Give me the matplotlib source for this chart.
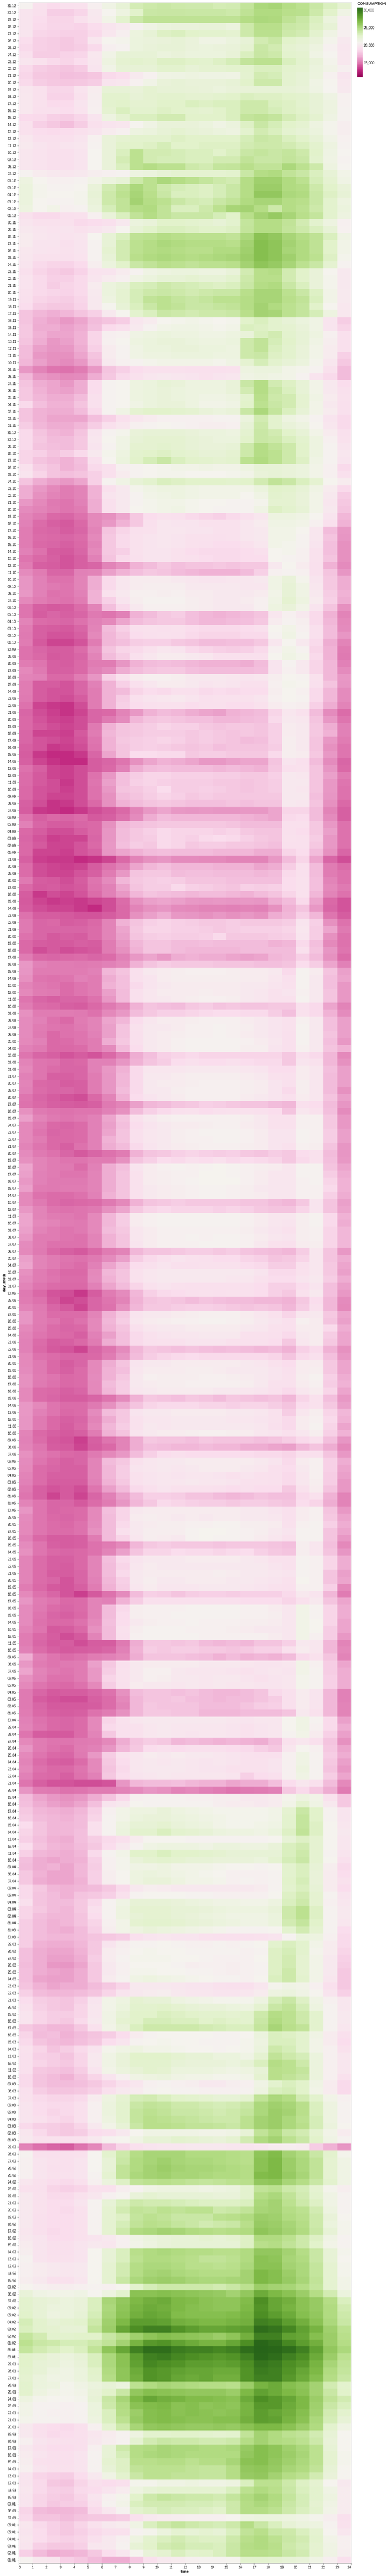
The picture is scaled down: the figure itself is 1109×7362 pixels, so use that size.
import numpy as np
import matplotlib
matplotlib.use('Agg')
import matplotlib.pyplot as plt
from matplotlib.colors import LinearSegmentedColormap

plt.rcParams['font.family'] = ['Liberation Sans', 'DejaVu Sans']

# consumption, in hundreds, one row per day, hours 0-23
# each month runs from its last day down to the 1st
dec = [
[206,192,187,190,192,203,214,222, 235,238,240,238,237,237,235,236, 243,254,256,250,246,240,232,224],
[194,190,181,181,185,198,208,216, 228,240,241,241,240,240,240,238, 245,252,252,248,247,238,228,214],
[194,188,184,184,190,197,212,226, 239,245,245,245,245,245,245,245, 250,254,253,245,240,232,218,203],
[194,187,185,185,183,188,194,199, 206,214,218,219,219,220,220,217, 238,248,248,240,238,230,222,203],
[195,185,183,182,182,186,196,203, 217,222,230,232,228,226,226,224, 238,247,247,238,236,226,214,204],
[189,182,180,178,182,196,208,210, 218,219,220,222,219,214,214,218, 222,236,240,228,224,220,210,198],
[186,182,180,178,180,186,203,206, 218,220,222,222,219,218,219,220, 224,240,236,224,222,216,205,196],
[190,180,180,183,185,197,213,222, 222,222,218,220,218,218,218,221, 232,241,238,226,224,214,207,197],
[195,192,186,184,188,196,216,224, 226,224,230,230,228,226,230,234, 243,246,246,232,226,220,210,197],
[186,180,178,176,179,194,213,222, 222,222,226,226,222,224,224,226, 226,232,232,226,224,218,212,203],
[185,178,177,174,175,177,186,189, 199,205,214,215,216,215,215,214, 225,236,234,225,222,217,205,194],
[186,180,178,177,178,180,194,196, 205,213,220,222,220,220,220,222, 228,238,238,225,222,214,208,197],
[196,192,185,185,193,201,222,222, 220,224,222,222,221,220,218,220, 221,222,222,222,220,215,207,198],
[197,192,183,183,192,202,226,226, 222,224,226,226,224,224,226,228, 232,230,230,228,226,222,215,205],
[197,192,187,187,194,203,226,228, 224,224,228,228,232,230,232,232, 238,238,232,230,226,222,216,205],
[197,190,190,188,193,204,224,232, 226,226,230,228,226,224,228,232, 238,238,234,230,228,222,216,206],
[187,186,182,180,185,194,216,224, 232,232,236,236,228,228,228,232, 243,245,242,235,230,225,215,206],
[192,182,178,173,180,190,194,196, 208,214,220,220,220,218,214,218, 230,240,234,228,224,216,210,202],
[192,188,187,188,190,194,200,204, 216,218,222,224,222,220,218,216, 226,236,232,225,222,218,210,202],
[197,190,190,190,194,205,220,224, 226,226,226,230,228,228,228,228, 234,240,238,232,228,222,213,205],
[199,194,192,194,196,206,220,228, 228,230,234,228,228,230,230,230, 236,238,238,236,232,226,216,206],
[196,193,190,191,194,207,220,232, 246,236,236,234,232,232,228,232, 240,242,240,242,238,228,215,207],
[196,193,190,191,194,207,220,235, 246,236,234,234,232,232,236,236, 244,240,240,243,240,226,214,206],
[196,193,190,190,194,207,220,232, 246,250,246,246,238,236,242,243, 248,244,244,254,246,238,216,207],
[206,200,198,196,198,202,204,206, 216,218,222,224,224,224,224,226, 240,250,252,244,240,232,222,212],
[216,208,204,204,206,212,218,222, 238,246,254,250,246,242,238,236, 250,260,260,252,246,234,224,214],
[218,210,206,206,208,220,236,244, 254,246,238,234,232,230,234,240, 250,262,262,252,250,238,228,220],
[218,210,208,208,210,222,238,246, 256,248,240,232,232,230,234,240, 250,266,266,254,252,240,230,222],
[218,208,206,206,210,220,238,244, 258,250,246,240,236,234,240,244, 252,256,256,250,248,240,226,216],
[216,208,212,204,206,218,234,244, 250,252,244,232,232,238,246,256, 258,250,238,250,246,238,226,218],
[192,186,186,190,192,204,220,232, 244,250,244,240,240,240,234,228, 248,258,264,256,248,242,226,216],
]
nov = [
[195,192,192,192,186,188,190,198, 218,220,228,228,226,224,222,226, 242,250,250,244,236,226,216,204],
[198,195,193,194,192,194,198,208, 222,228,232,232,230,228,228,230, 243,250,250,243,238,232,222,205],
[200,196,194,193,195,207,222,232, 245,246,250,248,246,246,246,244, 254,270,266,256,250,245,232,214],
[200,194,194,191,194,206,222,236, 246,250,254,252,250,250,250,248, 258,272,268,258,252,245,228,212],
[197,194,193,192,194,206,224,236, 246,250,252,250,248,248,252,252, 260,272,268,256,252,245,228,212],
[196,192,192,190,193,206,222,236, 248,252,254,252,250,252,254,256, 262,272,268,260,252,246,230,210],
[194,186,184,183,187,202,218,228, 240,244,248,246,244,246,246,248, 258,268,264,256,246,240,224,206],
[190,184,180,178,183,193,194,200, 206,214,216,218,218,216,216,220, 236,248,250,236,228,220,208,198],
[193,186,182,182,186,195,200,204, 214,218,222,222,224,222,222,226, 238,248,248,236,228,220,210,198],
[193,186,180,184,186,200,218,222, 232,234,238,236,234,232,230,232, 240,250,252,240,232,220,210,198],
[192,186,185,183,186,199,218,224, 234,238,240,238,236,238,240,240, 248,256,256,246,240,230,212,199],
[190,184,182,180,185,198,216,224, 234,244,246,242,240,242,246,246, 250,256,256,248,244,232,212,199],
[188,180,178,178,183,198,209,222, 232,240,246,244,240,240,242,244, 250,258,252,246,242,228,208,197],
[176,170,167,170,176,182,198,208, 226,232,240,238,236,238,238,240, 248,258,256,246,242,234,216,197],
[176,167,164,160,164,172,176,180, 196,200,208,210,212,210,208,210, 228,232,226,222,218,214,194,180],
[178,166,166,163,166,175,187,190, 199,206,212,214,214,212,210,212, 232,230,226,224,220,214,194,184],
[178,168,164,164,168,184,203,205, 214,216,218,216,216,214,214,216, 220,232,236,226,222,216,204,190],
[176,166,160,162,168,184,204,208, 216,218,220,220,218,216,216,218, 238,244,234,228,222,214,202,190],
[172,162,158,160,166,182,200,206, 214,218,218,220,220,218,218,216, 238,244,232,226,220,212,200,190],
[172,160,156,156,164,176,200,206, 214,216,216,218,218,218,216,216, 238,240,230,226,220,212,200,182],
[170,162,156,154,160,172,198,204, 206,210,212,212,212,212,210,214, 224,234,226,222,218,210,196,178],
[160,150,142,140,146,160,176,182, 188,192,192,192,190,190,190,192, 216,218,218,212,210,206,192,172],
[170,160,156,152,154,166,178,186, 192,196,198,196,194,192,194,196, 214,216,214,212,206,194,186,172],
[176,166,164,160,166,188,206,208, 216,218,222,220,216,216,216,220, 240,250,236,230,222,212,198,188],
[178,168,164,162,166,188,206,208, 216,218,220,218,216,216,216,220, 236,250,240,232,222,212,198,190],
[178,170,166,166,172,190,206,208, 216,218,220,218,216,214,214,216, 226,248,238,236,224,214,200,192],
[186,174,168,168,176,190,206,208, 214,218,220,220,216,212,212,214, 228,246,240,236,224,212,198,190],
[176,168,166,166,172,186,206,214, 224,228,228,226,224,220,218,220, 240,254,242,232,222,212,200,190],
[176,168,164,164,164,174,182,190, 196,200,204,204,204,204,206,206, 218,236,226,216,212,206,194,186],
[180,170,166,166,170,180,190,196, 204,206,208,206,204,202,202,204, 222,238,226,220,216,208,196,186],
]
oct_ = [
[186,176,170,168,176,194,206,210, 220,222,222,222,220,218,218,216, 225,240,236,228,222,212,200,190],
[186,178,172,172,178,196,208,214, 222,224,224,224,222,220,218,218, 228,240,238,232,226,216,204,192],
[186,176,174,172,178,194,206,214, 224,224,226,224,222,220,220,222, 238,250,244,238,228,216,206,194],
[184,182,176,180,186,198,210,216, 226,228,230,226,224,222,222,224, 238,250,246,238,228,216,206,196],
[184,176,172,168,174,190,208,218, 228,234,240,232,228,226,224,226, 246,252,246,238,230,214,206,194],
[192,180,176,168,172,186,190,204, 206,208,210,212,212,214,212,212, 216,222,222,220,218,212,204,186],
[194,184,176,174,176,182,190,200, 206,208,210,210,208,208,208,210, 212,220,222,220,218,212,204,190],
[176,166,162,160,164,182,206,214, 222,226,232,230,228,228,228,226, 228,236,244,240,232,224,208,200],
[166,160,152,146,150,168,190,198, 210,214,216,216,214,212,212,212, 212,218,228,226,222,214,200,186],
[166,156,150,146,150,168,194,198, 206,212,214,216,214,212,212,212, 208,214,226,224,220,212,198,180],
[160,152,144,142,148,166,190,198, 206,210,212,212,210,208,208,206, 206,210,224,224,220,212,196,178],
[154,150,146,142,146,166,190,198, 208,210,212,214,210,208,206,206, 206,214,230,226,222,212,198,176],
[150,144,136,134,140,152,156,164, 178,188,192,190,186,184,182,186, 190,196,216,216,214,208,194,170],
[148,138,132,128,136,152,160,168, 178,190,196,194,194,192,192,192, 196,200,214,214,212,204,190,168],
[146,136,134,130,134,150,176,184, 190,192,196,196,194,194,192,192, 196,198,212,212,208,196,172,160],
[146,138,136,134,138,152,178,186, 192,194,196,194,192,192,190,192, 196,198,212,212,206,196,176,158],
[146,136,134,132,136,150,178,186, 192,194,196,194,192,190,188,188, 192,196,212,210,206,194,174,156],
[148,140,130,128,134,152,178,182, 192,194,194,192,188,186,186,186, 188,190,208,210,204,192,174,156],
[142,136,132,126,132,148,176,186, 190,194,194,192,190,188,186,186, 188,188,208,206,204,192,176,156],
[146,132,130,126,132,134,150,156, 168,172,178,174,176,176,178,176, 178,178,198,208,200,190,168,154],
[154,146,134,134,148,150,162,168, 174,178,176,172,170,168,168,168, 172,182,204,206,204,190,176,158],
[158,148,140,140,150,166,186,196, 200,200,200,198,196,194,194,196, 196,198,214,220,210,194,178,166],
[158,148,144,142,150,166,186,196, 200,202,202,202,198,198,198,198, 196,196,214,222,214,196,178,166],
[160,148,140,142,148,168,192,198, 204,204,202,204,200,200,198,198, 198,200,212,222,214,198,180,168],
[152,146,142,140,146,168,182,194, 202,206,206,206,202,200,198,198, 200,204,214,224,216,200,182,166],
[142,132,128,130,138,150,174,186, 198,204,204,204,202,200,198,198, 198,204,216,220,212,194,176,156],
[142,130,134,132,134,144,142,148, 168,172,178,180,174,170,168,170, 172,176,196,204,198,186,168,150],
[150,138,136,134,140,148,152,164, 172,176,178,178,174,170,170,172, 174,178,200,206,202,186,170,152],
[146,132,130,128,134,150,172,182, 190,192,190,192,188,186,186,186, 188,190,208,212,204,190,172,154],
[144,132,126,126,132,152,170,178, 188,190,192,190,186,184,184,184, 186,186,206,214,206,190,172,158],
[146,128,122,122,126,146,170,174, 180,182,182,178,176,172,172,174, 174,178,196,208,198,186,166,150],
]
sep = [
[140,134,130,130,138,154,176,184, 186,192,196,194,186,184,182,180, 182,186,204,212,206,184,168,146],
[140,136,128,130,134,150,172,180, 190,196,200,200,198,196,190,190, 190,190,208,214,210,186,168,144],
[146,142,132,130,136,146,146,158, 168,172,174,172,170,168,168,168, 166,172,194,206,198,184,170,148],
[152,144,132,132,136,148,154,166, 172,176,178,178,174,172,172,172, 172,174,194,204,198,184,170,154],
[150,148,136,136,146,158,182,192, 200,204,204,202,198,198,198,196, 194,196,202,208,206,192,170,160],
[146,130,130,126,134,148,168,182, 190,196,200,200,198,194,196,194, 190,190,204,210,208,190,176,158],
[146,130,126,126,134,146,168,172, 184,188,186,190,190,186,188,186, 188,188,202,208,204,186,170,154],
[144,130,126,124,130,146,168,180, 190,194,196,198,194,190,192,192, 192,194,204,208,206,186,170,154],
[140,122,118,116,124,146,168,182, 188,190,192,192,188,190,190,188, 188,192,200,204,202,182,166,150],
[134,124,120,116,122,134,136,150, 160,168,172,170,166,164,162,168, 170,172,184,196,192,172,154,138],
[136,126,122,120,124,134,144,154, 170,176,178,176,174,174,170,170, 172,174,186,198,196,176,160,142],
[136,128,124,122,124,144,168,176, 178,180,184,182,182,178,176,178, 178,176,182,200,198,178,166,148],
[134,122,122,120,128,146,170,176, 178,180,180,180,178,180,178,176, 178,176,182,200,198,178,168,148],
[134,126,124,122,126,142,168,178, 180,182,184,182,178,180,178,176, 172,174,182,202,198,176,160,146],
[132,126,118,120,124,140,168,176, 180,182,180,178,176,178,174,176, 176,176,180,202,198,176,156,142],
[130,118,114,114,118,134,164,176, 188,188,186,186,178,180,180,178, 178,178,186,202,200,178,160,142],
[132,122,116,114,114,130,134,142, 156,164,168,166,164,160,160,162, 164,164,176,194,190,172,154,134],
[140,132,122,120,124,130,136,148, 166,172,174,172,172,172,170,172, 170,168,178,190,192,176,158,136],
[138,128,122,120,124,140,160,174, 180,184,184,182,182,182,180,180, 178,178,182,198,196,176,162,146],
[138,128,124,118,124,142,162,174, 182,184,182,180,180,180,178,178, 176,178,180,198,198,176,160,142],
[136,126,124,120,124,140,160,176, 178,182,188,180,180,182,180,178, 176,178,180,198,196,176,160,140],
[136,126,122,122,124,140,156,172, 176,180,184,182,178,180,178,178, 178,178,178,198,198,174,158,140],
[132,124,116,118,124,136,156,168, 172,176,178,176,174,174,174,176, 174,176,176,198,196,176,156,136],
[130,118,116,114,118,124,128,136, 150,160,164,160,158,160,158,158, 160,160,164,184,184,172,150,132],
[142,132,136,134,138,128,132,140, 154,166,172,170,170,170,170,170, 168,166,164,186,188,172,154,132],
[148,134,130,130,134,136,156,170, 174,176,178,178,178,178,178,176, 172,172,172,190,190,178,160,140],
[136,130,124,124,130,136,158,172, 178,182,186,184,184,184,182,184, 178,176,176,190,188,178,162,140],
[134,126,120,122,122,134,158,172, 178,180,186,184,182,186,188,186, 182,178,176,192,190,180,160,140],
[136,128,122,122,126,136,160,174, 180,178,186,184,178,180,180,178, 178,176,174,190,190,178,160,140],
[136,122,122,120,126,132,158,164, 168,172,174,172,172,172,170,170, 170,166,166,184,188,172,156,134],
]
aug = [
[132,120,118,118,114,116,122,136, 150,156,158,154,154,152,152,150, 150,150,160,172,184,164,134,124],
[138,124,122,120,122,130,140,148, 164,170,174,170,170,170,168,168, 168,164,166,180,190,172,146,138],
[138,124,122,122,126,132,146,160, 176,178,178,172,174,174,172,172, 172,170,172,186,190,172,146,140],
[144,130,128,124,130,142,154,170, 178,180,182,180,176,176,176,174, 174,174,174,188,192,174,150,140],
[136,128,130,126,128,140,148,164, 176,180,180,186,182,180,178,176, 182,180,182,188,192,174,152,144],
[130,118,124,122,126,138,148,160, 170,176,174,172,170,172,172,170, 168,172,176,184,192,170,150,140],
[128,122,118,120,118,122,124,138, 156,162,164,162,160,158,160,158, 160,158,166,172,186,164,136,126],
[130,124,122,122,118,114,124,136, 150,156,158,154,152,150,150,148, 150,148,156,168,176,160,134,126],
[140,130,130,128,126,126,130,136, 156,162,166,160,158,156,160,156, 160,156,166,170,182,170,142,130],
[144,134,136,130,132,136,150,168, 176,182,184,182,180,178,178,180, 178,178,178,180,194,182,156,140],
[144,134,134,134,134,138,150,164, 178,184,184,182,182,180,178,180, 182,182,182,184,196,180,164,144],
[140,134,128,132,130,138,150,162, 176,180,182,180,180,182,186,178, 178,178,180,182,194,180,156,140],
[136,130,128,128,132,130,146,160, 170,176,176,172,172,174,172,172, 172,172,168,170,186,174,152,140],
[136,124,128,124,126,128,146,156, 168,176,176,172,170,170,170,170, 172,172,172,172,190,176,158,142],
[146,136,134,136,138,134,138,148, 160,164,160,166,168,166,166,164, 162,164,170,172,182,172,156,138],
[160,148,146,146,144,146,148,152, 168,176,180,178,178,178,176,176, 176,174,174,176,188,180,164,148],
[158,146,146,146,146,148,170,176, 190,198,200,202,204,204,204,202, 200,200,198,186,206,200,176,162],
[156,142,140,142,148,146,166,174, 190,194,200,202,202,202,202,202, 200,200,196,190,206,198,174,164],
[150,144,142,138,142,146,168,174, 186,194,198,200,200,200,200,200, 198,198,194,192,206,198,174,160],
[152,146,144,138,142,146,162,172, 190,196,200,200,200,202,200,200, 198,196,192,194,204,198,176,160],
[142,134,132,134,134,140,160,172, 190,196,198,200,202,204,204,202, 198,196,192,192,206,198,176,160],
[146,138,136,132,130,136,144,152, 168,176,174,172,178,180,176,178, 176,176,178,178,190,186,164,150],
[156,146,146,146,144,140,152,160, 172,178,182,182,184,186,188,188, 186,186,180,174,192,186,168,154],
[154,148,140,136,146,150,164,170, 188,196,200,200,202,204,204,204, 200,198,194,192,204,198,174,162],
[154,146,142,140,144,150,162,176, 192,198,198,200,204,204,206,204, 202,198,194,192,206,198,174,162],
[154,144,136,140,142,148,162,176, 190,198,200,202,204,204,206,204, 200,198,194,190,206,198,176,162],
[152,148,136,138,142,146,166,178, 190,198,200,204,206,206,206,206, 204,200,196,190,206,198,174,160],
[148,144,136,136,138,146,154,172, 188,198,200,204,206,206,206,206, 202,202,194,190,204,198,176,168],
[142,134,132,126,130,126,136,148, 166,174,182,184,186,184,184,184, 184,184,184,178,190,186,170,152],
[150,142,140,134,136,148,148,158, 168,176,180,188,190,188,188,190, 188,186,186,178,194,192,170,156],
[152,142,138,134,134,148,160,168, 186,196,196,196,198,198,198,198, 196,194,188,188,200,196,174,162],
]
jul = [
[148,142,132,132,134,146,158,170, 186,198,198,200,202,202,202,202, 200,198,192,190,200,196,172,162],
[150,136,134,130,132,146,158,170, 186,198,200,200,202,204,204,204, 202,200,194,190,202,196,172,162],
[148,138,134,134,132,146,158,172, 186,198,198,202,204,204,204,204, 202,200,194,186,202,196,172,156],
[142,134,130,126,124,136,150,168, 188,194,198,200,204,204,204,204, 200,198,194,190,200,196,176,162],
[140,136,132,130,128,132,144,150, 162,170,172,176,178,182,180,178, 176,176,172,170,190,188,172,158],
[156,144,142,140,142,142,148,156, 172,182,186,190,192,188,190,192, 192,190,188,176,196,192,174,154],
[162,150,144,142,144,148,164,176, 192,198,202,204,204,204,204,204, 202,198,192,192,204,204,178,160],
[152,144,136,134,138,148,162,174, 188,194,198,200,200,202,204,204, 200,198,192,192,204,204,178,160],
[152,142,134,136,138,148,164,176, 190,196,198,202,204,206,206,206, 204,200,194,194,206,204,180,162],
[152,146,136,136,138,148,168,176, 190,196,198,202,204,204,206,206, 204,200,194,194,206,204,180,162],
[150,142,136,132,140,148,166,172, 186,194,198,200,202,204,204,204, 202,200,194,192,204,202,176,158],
[154,144,140,134,128,134,140,146, 168,176,178,182,184,182,180,182, 178,176,180,178,188,192,172,158],
[156,150,146,142,142,146,146,156, 176,182,188,186,190,188,192,186, 188,186,184,178,186,192,174,160],
[164,150,146,144,138,148,166,174, 194,200,204,206,204,206,208,206, 204,202,200,196,206,206,176,164],
[162,148,146,142,142,150,166,176, 192,200,202,204,204,208,208,206, 204,200,196,196,206,206,180,166],
[160,148,144,144,144,150,166,176, 192,200,202,204,206,208,208,208, 204,200,196,196,204,206,184,168],
[162,146,144,146,146,150,166,176, 192,198,200,202,204,206,206,204, 202,198,196,196,204,204,186,168],
[152,140,138,138,140,148,168,176, 192,198,200,202,204,206,206,204, 202,200,196,196,204,204,182,166],
[152,144,138,134,136,138,144,152, 168,176,178,180,178,178,178,178, 176,176,172,170,178,194,176,162],
[160,150,142,140,142,144,156,164, 178,184,186,184,184,184,182,184, 182,178,176,176,184,194,176,164],
[164,150,146,144,142,152,170,180, 200,204,206,206,206,206,206,206, 204,200,196,196,202,206,186,168],
[164,152,150,146,144,152,170,180, 200,204,206,206,206,206,206,206, 204,200,196,194,202,206,186,166],
[162,150,146,142,144,152,172,178, 196,200,204,204,204,204,204,204, 202,198,194,192,202,204,184,170],
[160,146,146,142,140,150,168,176, 196,200,204,204,206,204,206,206, 204,200,196,194,202,204,184,170],
[154,146,140,140,140,150,168,176, 194,200,204,204,204,206,206,206, 204,198,192,190,200,202,184,170],
[152,144,136,132,128,136,146,150, 170,176,176,178,180,180,178,180, 176,174,172,170,180,196,176,160],
[162,150,146,142,140,144,154,162, 180,186,190,194,192,190,188,188, 184,182,176,178,184,196,176,166],
[164,150,146,140,138,148,164,172, 188,190,194,190,190,192,192,192, 188,186,180,180,190,196,178,164],
[156,146,140,136,136,152,170,176, 192,196,198,198,198,198,198,198, 198,194,186,186,192,196,178,162],
[154,146,142,138,138,154,168,176, 192,196,198,198,198,198,198,196, 196,192,188,188,194,198,180,166],
[150,142,138,136,136,148,164,172, 184,192,194,192,190,190,190,190, 190,188,182,182,188,194,174,162],
]
jun = [
[144,136,126,124,118,130,146,154, 170,182,186,188,190,192,190,192, 190,188,182,178,192,198,174,160],
[146,140,128,122,124,134,142,150, 168,176,178,176,172,176,174,172, 172,170,170,168,178,188,170,154],
[150,144,134,128,122,134,140,156, 170,178,178,180,182,182,180,178, 176,178,176,170,180,190,170,152],
[158,146,138,138,138,150,168,178, 194,198,198,200,202,204,204,204, 200,196,192,184,196,198,178,164],
[158,146,142,136,140,152,170,180, 196,200,202,204,204,206,206,204, 202,198,194,190,204,200,176,162],
[152,144,138,134,136,152,168,176, 190,196,198,198,200,200,200,200, 198,196,192,190,200,200,186,166],
[150,142,138,136,132,148,162,174, 186,192,194,196,196,198,198,198, 192,192,190,186,198,200,180,164],
[148,138,130,132,136,146,166,174, 186,190,192,192,194,194,194,192, 190,190,188,178,196,200,178,164],
[148,136,128,126,122,134,142,154, 170,178,176,174,176,174,172,174, 172,170,172,168,182,186,168,156],
[152,140,138,134,134,136,146,158, 172,180,184,186,188,186,186,186, 186,186,184,176,186,190,174,160],
[152,144,136,130,134,152,166,176, 194,198,198,200,200,200,200,200, 198,196,192,188,200,200,178,164],
[154,144,136,132,138,152,168,174, 196,200,200,200,202,202,200,198, 198,198,194,190,200,202,178,164],
[156,146,142,136,138,154,168,178, 198,204,202,202,202,204,204,202, 200,198,194,192,202,206,182,166],
[156,144,140,136,138,152,172,180, 198,200,202,202,204,204,204,204, 202,198,192,192,200,204,180,168],
[152,138,136,132,134,152,170,180, 196,198,200,200,200,200,198,198, 196,194,190,186,196,200,184,164],
[152,138,134,130,130,134,142,154, 168,178,176,174,178,176,172,178, 176,174,176,170,184,192,174,160],
[160,152,142,138,138,144,156,166, 176,184,186,186,186,184,184,182, 184,184,180,176,188,192,178,162],
[160,148,142,136,138,154,172,178, 194,198,198,200,200,200,200,198, 198,196,192,180,196,202,184,170],
[158,144,136,132,134,150,166,178, 192,196,196,198,198,198,198,196, 196,194,192,186,200,204,186,168],
[158,144,136,130,136,152,170,180, 192,198,196,198,198,198,198,198, 198,196,190,186,200,206,184,164],
[150,136,132,128,132,146,168,176, 194,198,200,200,202,204,204,202, 200,196,194,190,196,202,182,168],
[148,138,128,126,120,132,142,150, 166,178,176,176,174,178,176,176, 176,174,176,180,186,190,174,158],
[150,142,130,128,122,130,136,150, 166,174,172,170,170,172,170,170, 166,166,164,162,170,176,166,152],
[156,144,140,136,134,144,152,160, 172,182,188,190,188,188,188,188, 188,186,186,184,190,190,176,160],
[154,142,136,132,134,150,172,178, 192,196,198,198,200,200,200,200, 200,198,194,186,200,204,182,166],
[152,138,134,132,132,150,170,180, 194,196,198,196,198,200,200,200, 198,196,190,188,198,204,182,164],
[150,138,132,132,132,150,170,180, 192,194,196,194,196,196,194,192, 194,192,190,186,196,204,180,162],
[148,138,130,130,130,148,168,178, 192,194,196,196,198,196,196,194, 192,192,190,186,196,202,180,160],
[144,132,126,128,124,142,162,172, 186,190,194,192,192,192,190,188, 190,188,188,178,192,200,176,160],
[142,132,122,128,122,134,148,162, 172,182,182,180,176,176,172,170, 172,176,174,174,186,192,168,150],
]
may = [
[150,142,134,134,128,138,146,158, 170,178,186,184,182,180,180,178, 180,180,178,176,188,184,166,150],
[158,142,134,136,138,152,174,184, 198,200,200,200,200,200,200,200, 198,198,194,190,200,204,176,160],
[154,142,136,134,138,152,172,184, 200,202,200,198,200,198,200,200, 198,198,196,190,200,204,178,164],
[152,142,138,136,140,154,172,186, 198,200,202,202,204,204,206,206, 202,202,200,192,204,206,182,166],
[152,142,138,138,140,156,172,190, 198,202,202,202,206,208,208,206, 204,202,198,194,206,206,176,164],
[148,136,130,130,132,146,172,184, 196,202,200,198,206,208,206,206, 204,200,196,192,206,206,176,160],
[154,142,132,130,132,140,146,152, 170,178,180,178,178,178,176,178, 178,178,176,174,202,196,174,152],
[156,142,136,134,136,140,150,162, 176,184,184,188,186,186,184,186, 188,182,178,176,202,196,176,158],
[150,138,132,132,136,150,174,186, 194,198,198,198,200,200,200,200, 198,196,192,192,206,204,184,166],
[150,138,132,130,136,150,172,184, 196,200,198,198,198,198,198,198, 198,198,194,192,206,204,184,166],
[150,138,130,130,134,150,172,186, 198,200,200,200,200,200,202,200, 198,198,196,194,206,204,176,162],
[150,138,134,126,134,148,170,182, 198,202,198,198,200,200,200,198, 198,196,194,192,208,204,176,164],
[146,136,128,126,132,146,168,180, 196,200,196,196,196,198,198,198, 196,194,192,190,204,204,182,152],
[152,140,134,126,120,128,140,154, 172,182,180,176,180,182,182,180, 182,182,182,186,198,194,170,146],
[158,146,142,136,138,150,148,168, 180,190,190,190,190,190,190,190, 188,188,188,184,192,198,176,164],
[154,144,138,134,138,150,172,186, 202,204,204,204,206,206,206,206, 204,204,200,196,212,206,184,166],
[154,142,134,132,136,150,172,188, 202,204,204,206,206,206,206,206, 204,204,202,196,212,206,184,166],
[154,140,136,136,140,152,174,188, 198,202,204,204,206,204,204,204, 202,202,200,196,212,208,184,164],
[150,142,128,130,136,156,172,192, 202,206,206,206,204,204,204,202, 200,198,198,196,212,208,180,164],
[146,136,130,124,128,150,172,190, 204,206,206,206,206,204,204,204, 204,204,200,196,212,204,180,160],
[146,134,128,130,124,130,130,144, 166,178,178,176,178,172,170,172, 170,176,176,182,198,196,170,150],
[148,138,132,128,130,132,134,148, 168,180,178,180,180,178,178,176, 178,182,182,190,200,196,170,152],
[166,148,142,138,140,146,148,152, 166,176,176,176,174,172,168,172, 168,170,168,172,186,192,176,150],
[160,146,142,144,146,162,178,190, 198,200,200,200,200,198,198,198, 196,194,194,196,212,204,180,164],
[164,150,144,142,146,160,180,192, 198,204,204,198,196,196,196,194, 192,194,196,194,212,206,180,166],
[156,148,140,140,146,160,184,192, 198,204,202,198,198,196,198,198, 194,192,194,196,210,206,182,166],
[152,142,138,136,140,152,180,190, 200,198,198,196,198,196,198,196, 196,194,194,196,210,206,182,166],
[144,134,128,130,130,134,140,156, 172,176,176,174,176,172,170,170, 172,176,186,190,200,194,170,148],
[144,130,126,124,124,132,138,152, 170,176,176,178,174,172,170,172, 172,176,180,190,200,194,170,148],
[144,134,128,128,128,130,138,150, 170,178,176,176,176,172,172,172, 176,180,182,190,200,194,170,150],
[146,136,132,130,132,140,146,156, 170,178,178,176,176,170,170,170, 172,172,172,176,198,192,170,150],
]
apr = [
[148,140,136,134,138,152,184,192, 196,198,198,198,198,198,198,196, 194,196,196,208,214,206,186,162],
[150,142,136,134,138,152,186,190, 192,196,198,196,196,196,196,194, 192,194,196,208,214,204,186,166],
[142,130,128,128,138,150,178,190, 192,196,198,196,194,196,196,194, 192,194,196,206,212,200,182,162],
[152,146,142,142,144,146,152,166, 176,180,178,170,172,170,168,170, 168,166,174,192,196,190,176,156],
[158,146,140,138,146,148,158,170, 178,188,190,188,190,190,190,188, 186,182,178,196,208,204,178,164],
[152,142,136,134,144,160,180,192, 196,200,198,200,198,198,196,194, 192,190,190,204,214,206,180,166],
[150,138,132,130,138,152,178,188, 196,198,196,198,196,194,196,194, 192,192,194,204,214,206,178,162],
[152,140,136,136,142,152,176,186, 196,198,198,198,196,194,194,192, 192,192,194,204,216,206,176,160],
[148,138,136,132,140,148,178,188, 194,196,198,196,196,196,196,194, 182,188,190,204,214,206,180,164],
[142,132,126,126,124,124,126,158, 170,172,172,174,170,168,168,164, 166,166,174,188,196,190,172,152],
[158,146,144,140,142,146,146,150, 154,158,156,150,152,148,146,142, 144,146,148,178,186,178,166,146],
[172,164,160,156,160,166,176,186, 204,206,206,206,204,204,202,202, 198,198,200,210,216,212,192,178],
[174,166,162,160,164,174,194,198, 208,206,206,206,206,206,202,200, 200,198,200,212,224,214,198,178],
[178,170,168,166,170,182,204,212, 216,216,220,216,214,212,210,210, 210,210,212,224,240,228,206,194],
[180,172,170,168,172,184,206,212, 218,220,220,218,216,214,212,210, 210,210,212,226,242,228,206,194],
[188,176,170,170,172,190,206,216, 222,222,224,220,218,216,212,210, 210,212,214,226,242,230,208,196],
[184,176,170,170,174,190,206,218, 226,226,232,226,224,222,218,216, 216,214,218,230,244,230,208,198],
[182,174,168,166,174,180,186,190, 200,208,208,208,206,206,206,206, 206,206,208,222,230,224,208,196],
[188,176,170,168,172,178,188,198, 206,214,216,216,216,214,218,218, 216,216,220,232,236,224,208,196],
[182,170,168,166,170,186,206,212, 228,228,232,228,228,226,224,222, 222,222,222,232,238,224,206,194],
[174,166,164,166,168,182,204,210, 220,224,226,224,222,222,220,220, 220,218,224,234,240,224,208,190],
[172,166,168,164,170,180,204,210, 214,214,216,212,212,212,210,208, 208,206,208,226,232,222,202,186],
[178,168,164,164,170,182,202,208, 216,218,216,214,212,210,208,204, 204,204,206,226,232,220,200,188],
[178,166,164,164,168,182,202,208, 216,220,220,216,212,212,210,204, 206,204,206,228,234,220,200,192],
[186,178,170,168,170,172,178,186, 198,202,200,198,198,198,198,198, 198,200,206,226,232,222,200,188],
[186,176,172,168,176,178,182,192, 206,208,208,208,206,206,204,204, 204,204,208,230,236,224,206,194],
[190,176,172,172,178,186,206,214, 222,222,222,220,218,216,214,214, 212,212,216,232,238,224,204,196],
[184,178,172,170,178,190,206,216, 224,224,224,222,222,220,218,216, 216,216,220,238,246,230,206,198],
[184,174,170,170,176,188,206,216, 222,224,224,222,220,218,216,214, 214,214,218,238,246,230,206,198],
[180,172,168,170,176,184,204,212, 224,226,226,224,222,220,218,216, 214,214,218,236,242,228,206,196],
]
mar = [
[180,172,168,166,172,182,202,212, 216,220,218,216,214,212,210,206, 206,206,208,226,236,224,206,188],
[180,172,170,170,172,176,178,180, 190,194,196,194,194,192,190,190, 190,192,194,206,218,216,204,186],
[180,168,166,166,170,178,194,202, 206,206,208,206,204,204,206,204, 206,208,226,232,226,212,200,186],
[174,166,164,164,168,178,200,204, 208,210,208,208,206,206,206,206, 204,206,230,234,226,210,200,184],
[174,166,162,162,166,180,200,206, 210,210,210,208,208,206,204,204, 204,208,230,236,224,212,198,182],
[172,166,160,158,164,178,198,204, 208,208,208,206,202,204,204,202, 204,206,230,236,224,212,198,180],
[174,166,164,162,166,178,198,204, 210,210,208,208,206,206,204,202, 204,206,230,238,224,212,198,178],
[174,164,162,162,166,178,200,206, 214,216,214,212,210,208,206,206, 204,208,232,238,226,212,196,178],
[176,168,164,166,166,172,178,184, 198,198,198,196,194,194,192,190, 190,196,210,214,212,204,190,178],
[182,172,170,170,172,176,184,194, 198,200,202,198,196,196,194,194, 196,200,216,218,214,208,194,182],
[188,180,178,176,182,194,212,216, 224,222,222,216,214,212,210,210, 210,216,234,240,230,214,204,196],
[192,182,178,176,184,196,212,218, 226,226,228,224,222,220,220,218, 216,224,240,244,234,216,206,196],
[194,184,180,180,184,196,214,222, 228,228,232,230,228,226,226,224, 226,238,250,246,238,226,206,198],
[194,184,180,178,186,198,214,224, 228,234,234,232,232,228,230,228, 226,240,252,246,238,226,206,198],
[178,174,170,170,178,192,212,220, 232,238,238,238,238,236,234,232, 232,242,256,248,244,226,206,196],
[184,172,174,168,172,176,180,188, 200,206,208,208,208,208,206,206, 208,218,232,230,226,214,200,190],
[186,176,172,170,174,178,188,194, 206,208,210,208,208,206,206,206, 210,216,232,232,226,212,200,188],
[192,184,176,180,186,194,210,214, 216,212,212,210,208,208,206,208, 210,218,238,234,226,212,204,192],
[190,182,180,176,184,198,214,220, 228,228,228,224,222,222,218,218, 214,224,244,238,234,218,204,196],
[190,184,180,178,184,198,214,220, 226,226,226,222,220,220,220,218, 222,232,250,246,238,218,204,196],
[190,178,176,174,180,194,212,218, 222,226,224,218,218,218,216,214, 216,222,248,246,242,218,204,196],
[186,176,172,168,176,184,194,204, 214,216,218,214,212,212,210,210, 212,224,248,244,240,218,204,192],
[186,176,172,172,174,178,184,192, 196,204,206,204,202,198,198,202, 204,214,226,232,228,214,200,186],
[190,180,176,176,178,182,190,198, 200,206,208,206,206,204,204,204, 206,216,232,234,228,212,200,186],
[192,186,184,184,186,200,216,224, 234,236,232,228,226,224,222,222, 224,244,254,250,236,226,212,204],
[194,188,186,186,190,204,218,226, 240,244,242,238,238,236,234,236, 240,254,260,256,248,232,216,206],
[194,188,184,186,190,204,218,226, 242,246,244,240,240,238,236,238, 242,254,262,258,248,232,216,206],
[194,190,186,184,190,204,216,226, 242,248,246,244,242,240,238,238, 246,258,262,254,246,234,216,206],
[186,182,180,178,184,198,212,222, 240,248,248,246,244,244,242,240, 246,258,262,254,248,234,218,208],
[196,186,180,178,180,188,190,198, 208,214,214,214,214,212,212,214, 222,244,252,240,236,224,212,200],
[198,192,192,190,192,198,206,208, 214,222,222,226,224,222,220,224, 236,252,258,246,240,228,214,206],
]
feb = [
[150,140,135,130,142,152,172,184, 190,194,196,196,198,198,198,196, 194,196,200,202,200,180,168,158],
[206,192,190,190,192,207,226,238, 250,256,256,256,252,252,252,250, 248,268,274,258,252,240,226,210],
[204,194,192,190,194,207,222,240, 252,256,260,256,254,254,252,250, 248,270,276,262,254,244,224,214],
[204,194,190,190,194,207,222,244, 252,258,262,258,256,256,254,252, 250,270,276,262,254,244,224,214],
[204,194,192,192,194,206,224,244, 254,258,260,256,256,254,252,252, 250,274,276,264,256,244,224,214],
[196,192,188,186,190,204,218,230, 244,246,248,246,244,242,244,246, 248,266,268,256,250,240,226,214],
[192,190,184,182,184,192,192,202, 206,214,216,216,216,214,216,218, 226,244,246,238,234,224,210,202],
[198,192,186,186,192,196,204,208, 220,224,222,222,222,222,220,220, 226,250,254,244,236,226,214,206],
[198,192,188,188,194,206,222,232, 238,236,236,234,232,230,230,230, 232,254,258,246,238,230,214,206],
[198,192,188,186,192,206,224,236, 244,242,246,244,246,246,238,240, 244,256,258,250,246,236,216,206],
[198,190,188,188,192,206,224,230, 242,246,244,240,240,240,246,248, 252,262,260,252,248,238,220,208],
[198,190,188,188,192,206,224,234, 244,248,246,242,240,236,238,240, 248,264,262,256,250,238,218,210],
[196,190,186,188,192,206,224,238, 252,254,258,256,252,250,248,250, 252,268,264,258,252,240,222,210],
[198,194,188,188,192,194,198,204, 214,218,220,222,222,224,222,224, 230,252,252,246,238,230,214,206],
[200,194,190,190,194,198,196,204, 212,216,220,222,222,222,222,222, 230,248,250,244,238,228,212,206],
[202,194,190,190,194,208,222,232, 248,252,254,252,250,250,248,248, 252,266,266,258,250,240,222,210],
[206,194,192,192,194,208,222,232, 246,252,252,250,248,244,244,246, 252,270,268,256,252,240,222,208],
[204,200,198,196,198,208,224,236, 250,254,254,252,248,248,246,248, 254,270,270,258,254,242,224,210],
[204,200,198,196,198,208,224,236, 250,256,258,254,252,250,250,250, 258,276,272,262,254,242,224,210],
[202,198,192,192,196,208,224,240, 254,260,262,260,256,254,254,256, 258,276,272,264,256,244,224,212],
[208,204,202,202,204,206,204,208, 226,234,238,238,238,238,236,240, 246,262,258,256,250,242,224,212],
[220,214,212,212,214,208,216,226, 270,270,272,270,268,266,264,258, 266,282,276,270,262,250,236,218],
[226,222,220,218,220,232,256,266, 276,280,282,276,274,270,268,268, 274,294,284,280,270,264,250,232],
[226,222,218,218,220,232,254,268, 278,282,280,276,272,270,268,268, 276,292,284,278,270,264,252,236],
[228,222,216,218,222,234,256,270, 280,284,282,274,272,272,272,274, 278,294,288,282,272,266,252,238],
[234,226,222,224,226,238,260,276, 288,288,286,280,278,276,276,278, 280,298,296,288,280,270,254,240],
[232,226,224,222,222,242,262,284, 294,298,298,292,288,284,284,286, 288,304,302,296,286,278,260,246],
[242,236,226,226,228,228,240,248, 260,268,272,270,268,266,262,268, 280,298,298,286,284,272,262,248],
[246,240,238,234,234,238,244,258, 278,290,292,286,282,278,278,284, 294,306,304,296,288,280,262,250],
]
jan = [
[242,236,232,228,232,244,268,284, 298,304,304,300,298,298,296,298, 304,307,306,304,298,286,266,254],
[228,224,220,218,222,232,254,270, 288,298,300,296,294,292,290,292, 298,306,304,298,294,282,262,246],
[228,222,220,216,220,232,254,270, 286,296,294,292,288,288,286,288, 294,302,300,294,290,278,256,244],
[226,222,216,214,218,228,252,268, 282,292,290,286,284,284,282,282, 292,300,298,292,284,276,252,242],
[224,218,214,214,218,226,250,268, 280,292,290,284,282,284,280,280, 292,298,298,290,282,272,250,240],
[226,218,216,210,214,218,222,218, 246,252,256,254,252,250,250,248, 262,278,282,272,268,258,236,226],
[226,216,212,210,212,220,228,240, 266,272,270,268,266,266,266,262, 276,286,282,276,270,258,240,228],
[216,210,208,208,210,222,240,256, 276,284,280,278,274,274,272,270, 282,294,290,284,276,262,244,236],
[212,206,206,204,206,218,238,252, 270,274,276,270,272,268,270,268, 278,290,290,282,276,260,240,232],
[212,206,204,204,206,218,232,250, 262,272,274,270,272,270,268,270, 278,288,284,280,272,258,236,226],
[210,206,206,204,206,216,232,246, 264,272,274,272,270,270,272,272, 280,288,286,278,270,254,234,222],
[198,190,188,186,190,204,224,238, 256,266,268,266,264,264,266,264, 270,276,276,270,262,252,226,214],
[198,190,186,188,190,196,200,206, 216,226,226,228,228,226,224,226, 244,258,252,246,244,236,222,208],
[204,194,192,190,190,198,202,206, 224,236,240,238,238,236,236,238, 250,258,252,250,246,238,220,208],
[198,192,188,188,190,204,222,238, 250,252,256,254,254,252,252,254, 264,272,268,260,254,246,222,208],
[200,194,190,190,194,206,222,234, 250,254,256,254,252,252,252,252, 266,272,268,262,256,246,224,210],
[202,192,190,190,194,206,224,230, 248,248,250,250,246,250,250,256, 270,272,266,260,254,246,224,210],
[204,194,192,192,194,206,222,230, 244,246,246,246,244,242,242,250, 266,268,264,256,252,244,222,208],
[194,184,182,180,188,198,214,226, 240,246,246,244,244,242,242,250, 264,266,258,250,246,236,220,208],
[194,186,178,176,184,190,188,190, 210,210,214,214,216,214,214,216, 232,246,246,238,230,224,208,198],
[196,186,182,180,186,188,194,200, 216,222,224,224,224,224,224,232, 246,252,248,240,232,226,214,200],
[194,184,180,178,184,194,204,210, 228,238,242,240,238,238,236,242, 252,258,252,242,234,226,216,200],
[194,184,178,180,182,192,206,212, 232,236,236,236,234,234,232,238, 250,254,250,240,234,224,214,200],
[184,172,170,170,172,186,196,206, 226,230,234,232,232,230,228,238, 250,250,246,238,232,226,212,200],
[186,176,176,172,176,178,178,180, 190,198,200,202,204,204,204,208, 216,218,218,216,214,210,202,190],
[196,186,182,178,184,192,198,200, 214,232,238,242,238,236,234,238, 250,240,232,222,218,216,206,192],
[194,188,182,178,182,186,190,192, 206,210,218,224,222,224,222,232, 244,248,240,238,232,224,208,196],
[196,188,184,182,184,190,198,204, 216,226,232,236,232,230,230,238, 248,252,246,240,236,226,212,204],
[194,182,178,178,182,196,198,206, 222,228,236,238,234,234,232,240, 250,252,248,238,234,224,214,204],
[182,172,166,168,170,178,188,196, 208,220,224,232,226,228,232,240, 248,248,246,240,236,224,214,202],
[206,198,196,182,178,172,166,166, 178,190,198,200,204,206,206,208, 226,226,224,222,220,214,203,190],
]

months = [('12', dec), ('11', nov), ('10', oct_), ('09', sep), ('08', aug), ('07', jul),
          ('06', jun), ('05', may), ('04', apr), ('03', mar), ('02', feb), ('01', jan)]
hours = list(range(25))
legend_ticks = [15000, 20000, 25000, 30000]
legend_labels = ['15,000', '20,000', '25,000', '30,000']
piyg = ['#8e0152', '#c0267e', '#dd72ad', '#f0b3d6', '#faddED', '#f5f3ef',
        '#e1f2ca', '#b6de87', '#80bb47', '#4f9125', '#276419']

# my first readings came out too strong at both ends, compared with the reference colours
read_as = [100, 114, 128, 142, 160, 207, 250, 276, 294, 307]
true_val = [120, 130, 142, 149, 160, 207, 248, 268, 288, 307]

rows = []
day_labels = []
for mm, rr in months:
    for i, r in enumerate(rr):
        rows.append(r)
        day_labels.append('%02d.%s' % (len(rr) - i, mm))
z = np.interp(np.array(rows), read_as, true_val) * 100
n = len(day_labels)

W, H = 1109, 7362
cmap = LinearSegmentedColormap.from_list('piyg', piyg)
vmin, vmax = 10830, 30700

fig = plt.figure(figsize=(W / 100, H / 100), dpi=100)
ax = fig.add_axes([53.5 / W, 1 - 7325.5 / H, 950 / W, 7320 / H])
ax.pcolormesh(hours, np.arange(n + 1), z, cmap=cmap, vmin=vmin, vmax=vmax,
              edgecolors='none', rasterized=True)
ax.set_xlim(0, 24)
ax.set_ylim(n, 0)

ax.set_yticks(np.arange(n) + 0.5)
ax.set_yticklabels(day_labels)
ax.set_xticks(hours)
ax.set_xticklabels([str(h) for h in hours])
ax.tick_params(length=3.6, width=0.72, color='#888888', labelsize=7.2, pad=1.6, labelcolor='black')
ax.get_xticklabels()[0].set_ha('left')
ax.get_xticklabels()[-1].set_ha('right')
for s in ['left', 'bottom']:
    ax.spines[s].set_color('#888888')
    ax.spines[s].set_linewidth(0.72)
for s in ['right', 'top']:
    ax.spines[s].set_color('#dddddd')
    ax.spines[s].set_linewidth(0.72)

fig.text(528 / W, 1 - 7350 / H, 'time', fontsize=7.9, fontweight='bold', ha='center', va='center')
fig.text(12 / W, 1 - 3665 / H, 'day_moth', fontsize=7.9, fontweight='bold', rotation=90,
         ha='center', va='center')

# legend
cax = fig.add_axes([1021 / W, 1 - 220.7 / H, 16 / W, 199.7 / H])
grad = np.linspace(vmin, vmax, 256).reshape(-1, 1)
cax.imshow(grad, cmap=cmap, vmin=vmin, vmax=vmax, aspect='auto', origin='lower',
           extent=[0, 1, vmin, vmax])
cax.set_xticks([])
cax.yaxis.tick_right()
cax.set_yticks(legend_ticks)
cax.set_yticklabels(legend_labels)
cax.tick_params(length=0, labelsize=7.2, pad=1.5)
for s in cax.spines.values():
    s.set_visible(False)
fig.text(1021 / W, 1 - 10.5 / H, 'CONSUMPTION', fontsize=7.9, fontweight='bold', ha='left', va='center')

fig.savefig('out.png', dpi=100)
